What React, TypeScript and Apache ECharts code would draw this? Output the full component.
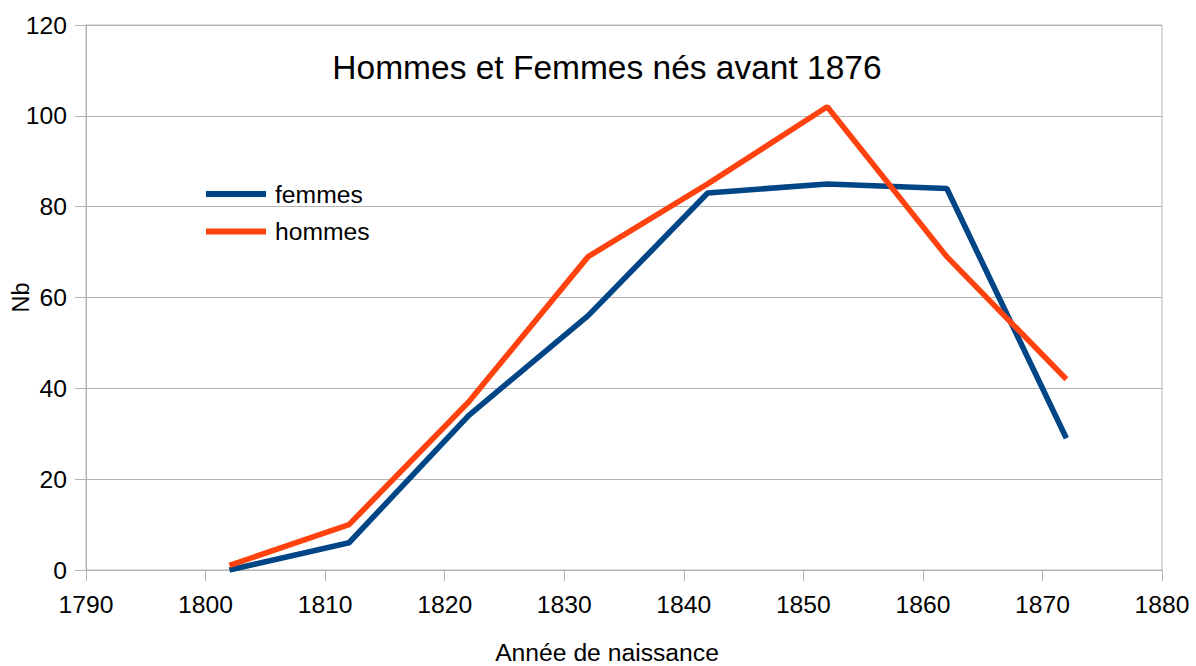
import React, { useEffect, useRef } from "react";
import * as echarts from "echarts";

const years = [1802, 1812, 1822, 1832, 1842, 1852, 1862, 1872];
const femmes = [0, 6, 34, 56, 83, 85, 84, 29];
const hommes = [1, 10, 37, 69, 85, 102, 69, 42];
const seriesNames = ["femmes", "hommes"];
const title = "Hommes et Femmes nés avant 1876";

export default function App() {
  const ref = useRef<HTMLDivElement>(null);
  useEffect(() => {
    const chart = echarts.init(ref.current!, null, { renderer: "svg" });
    const font = "Liberation Sans, Arial, sans-serif";
    chart.setOption({
      animation: false,
      textStyle: { fontFamily: font },
      title: {
        text: title,
        left: 602,
        top: 45,
        textAlign: "center",
        textStyle: { fontFamily: font, fontSize: 33.5, fontWeight: "normal", color: "#000" },
      },
      legend: {
        orient: "vertical",
        left: 201,
        top: 176.5,
        itemWidth: 60,
        itemHeight: 6,
        itemGap: 12.5,
        textStyle: { fontFamily: font, fontSize: 24.7, color: "#000", lineHeight: 25, padding: [0, 0, 0, 4] },
        data: seriesNames.map((n) => ({ name: n, icon: "rect" })),
      },
      grid: {
        left: 86,
        right: 34,
        top: 25,
        bottom: 96,
        outerBoundsMode: "none",
        containLabel: false,
        show: true,
        borderColor: "#b3b3b3",
        borderWidth: 1,
      },
      xAxis: {
        type: "value",
        min: 1790,
        max: 1880,
        interval: 10,
        name: "Année de naissance",
        nameLocation: "middle",
        nameGap: 70,
        nameMoveOverlap: false,
        nameTextStyle: { fontFamily: font, fontSize: 24.7, color: "#000", padding: [0, 34, 0, 0] },
        axisLine: { show: true, lineStyle: { color: "#b3b3b3" } },
        axisTick: { show: true, length: 11, lineStyle: { color: "#b3b3b3" } },
        axisLabel: { fontFamily: font, fontSize: 24.7, color: "#000", margin: 22, formatter: (v: number) => String(v) },
        splitLine: { show: false },
      },
      yAxis: {
        type: "value",
        min: 0,
        max: 120,
        interval: 20,
        name: "Nb",
        nameLocation: "middle",
        nameGap: 53,
        nameMoveOverlap: false,
        nameTextStyle: { fontFamily: font, fontSize: 23.5, color: "#000" },
        axisLine: { show: true, lineStyle: { color: "#b3b3b3" } },
        axisTick: { show: true, length: 11, lineStyle: { color: "#b3b3b3" } },
        axisLabel: { fontFamily: font, fontSize: 24.7, color: "#000", margin: 19, formatter: (v: number) => String(v) },
        splitLine: { show: true, lineStyle: { color: "#b3b3b3" } },
      },
      series: [
        {
          name: seriesNames[0],
          type: "line",
          data: years.map((y, i) => [y, femmes[i]]),
          showSymbol: false,
          lineStyle: { width: 5.6, color: "#004586" },
          itemStyle: { color: "#004586" },
        },
        {
          name: seriesNames[1],
          type: "line",
          data: years.map((y, i) => [y, hommes[i]]),
          showSymbol: false,
          lineStyle: { width: 5.6, color: "#ff420e" },
          itemStyle: { color: "#ff420e" },
        },
      ],
    });
    return () => chart.dispose();
  }, []);
  return <div ref={ref} style={{ width: 1196, height: 666, position: "absolute", left: 0, top: 0 }} />;
}
